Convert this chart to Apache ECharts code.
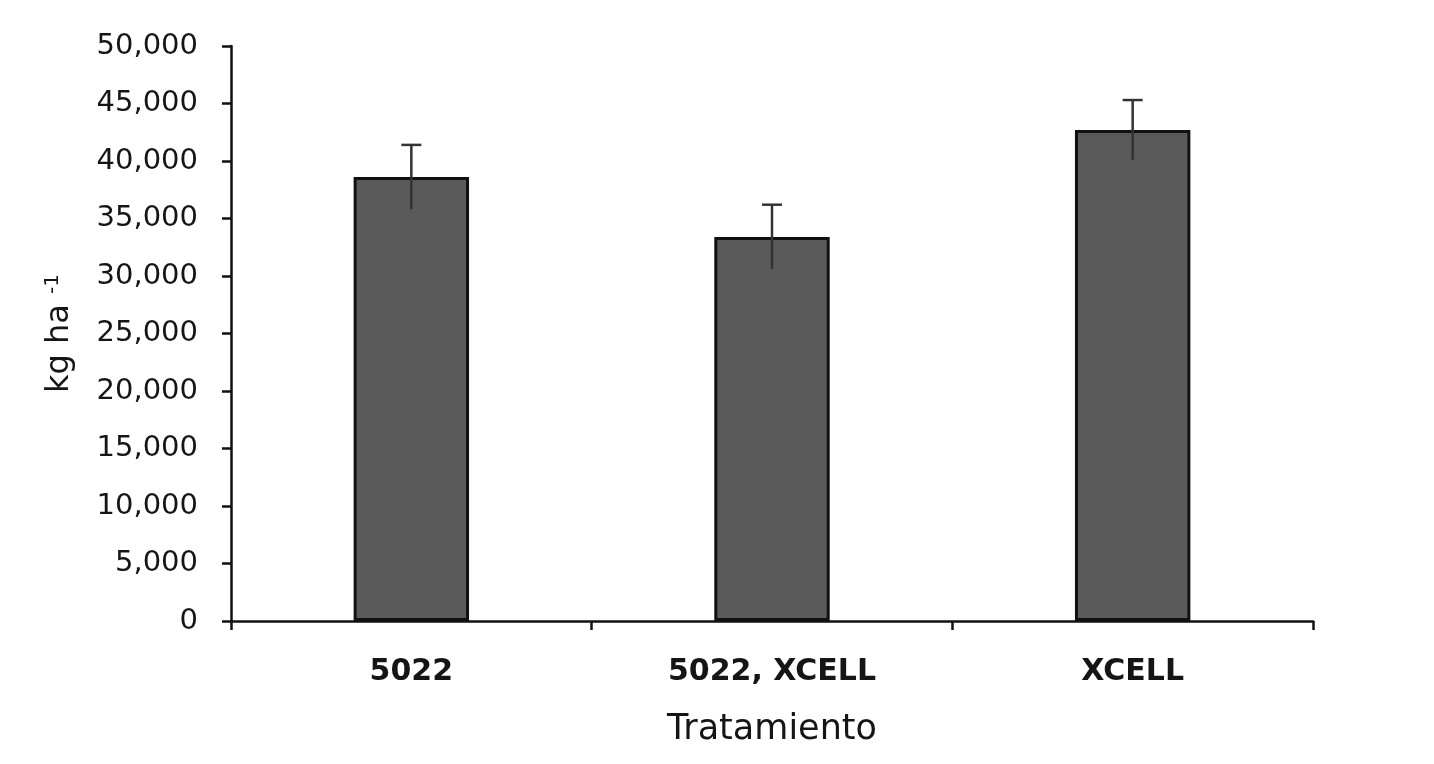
<!DOCTYPE html>
<html>
<head>
<meta charset="utf-8">
<script src="https://cdn.jsdelivr.net/npm/echarts@6/dist/echarts.min.js"></script>
<style>
  html, body { margin: 0; padding: 0; background: #fff; }
  #main { width: 1434px; height: 764px; }
</style>
</head>
<body>
<div id="main"></div>
<script>
var categories = ['5022', '5022, XCELL', 'XCELL'];
var yieldValues = [38600, 33400, 42700];
var errorValues = [2800, 2800, 2600];
var yTicks = { min: 0, max: 50000, interval: 5000 };

var myChart = echarts.init(document.getElementById('main'));

// datos para las barras de error: [categoria, bajo, alto]
var errData = [];
for (var i = 0; i < categories.length; i++) {
  errData.push([i, yieldValues[i] - errorValues[i], yieldValues[i] + errorValues[i]]);
}

var option = {
  backgroundColor: '#fff',
  animation: false,
  grid: { left: 231, right: 121, top: 46, bottom: 143 },
  xAxis: {
    type: 'category',
    data: categories,
    name: 'Tratamiento',
    nameLocation: 'middle',
    nameGap: 91,
    nameTextStyle: { fontFamily: 'DejaVu Sans', fontSize: 35, color: '#151515' },
    axisLine: { lineStyle: { color: '#111', width: 2.5 } },
    axisTick: { show: true, alignWithLabel: false, length: 9, lineStyle: { color: '#111', width: 2.5 } },
    axisLabel: { fontFamily: 'DejaVu Sans', fontWeight: 'bold', fontSize: 30, color: '#151515', margin: 36 }
  },
  yAxis: {
    type: 'value',
    min: yTicks.min,
    max: yTicks.max,
    interval: yTicks.interval,
    name: 'kg ha {sup|-1}',
    nameLocation: 'middle',
    nameGap: 154,
    nameTextStyle: {
      fontFamily: 'DejaVu Sans', fontSize: 32, color: '#151515',
      rich: { sup: { fontFamily: 'DejaVu Sans', fontSize: 20, color: '#151515', verticalAlign: 'top', padding: [0, 0, 14, 0] } }
    },
    axisLine: { show: true, lineStyle: { color: '#111', width: 2.5 } },
    axisTick: { show: true, length: 9, lineStyle: { color: '#111', width: 2.5 } },
    splitLine: { show: false },
    axisLabel: {
      fontFamily: 'DejaVu Sans', fontSize: 29, color: '#151515', margin: 33,
      formatter: function (v) { return v === 0 ? '0' : v.toLocaleString('en-US'); }
    }
  },
  series: [
    {
      type: 'bar',
      data: yieldValues,
      barWidth: '32%',
      itemStyle: { color: '#5a5a5a', borderColor: '#111', borderWidth: 3 }
    },
    {
      type: 'custom',
      data: errData,
      z: 10,
      renderItem: function (params, api) {
        var x = api.value(0);
        var lo = api.coord([x, api.value(1)]);
        var hi = api.coord([x, api.value(2)]);
        var cap = 10;
        var style = { stroke: '#333', lineWidth: 2.5 };
        return {
          type: 'group',
          children: [
            { type: 'line', shape: { x1: hi[0], y1: hi[1], x2: lo[0], y2: lo[1] }, style: style },
            { type: 'line', shape: { x1: hi[0] - cap, y1: hi[1], x2: hi[0] + cap, y2: hi[1] }, style: style }
          ]
        };
      }
    }
  ]
};

myChart.setOption(option);
</script>
</body>
</html>
